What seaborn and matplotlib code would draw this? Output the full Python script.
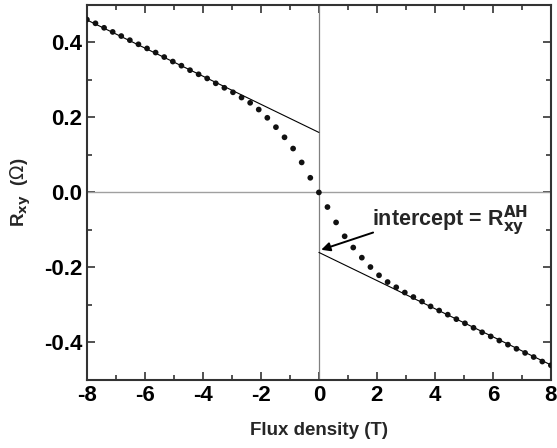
import numpy as np
import pandas as pd
import matplotlib
matplotlib.use("Agg")
import matplotlib.pyplot as plt
from matplotlib.ticker import MultipleLocator
import seaborn as sns

# Flux density points (T), negative half up to zero
flux_neg = [-8.0, -7.704, -7.407, -7.111, -6.815, -6.519, -6.222, -5.926, -5.630,
            -5.333, -5.037, -4.741, -4.444, -4.148, -3.852, -3.556, -3.259, -2.963,
            -2.667, -2.370, -2.074, -1.778, -1.481, -1.185, -0.889, -0.593, -0.296, 0.0]
# Hall resistance (Ohm), negative field side
rxy_neg = [0.461, 0.451, 0.439, 0.428, 0.417, 0.406, 0.395, 0.384, 0.373,
           0.361, 0.349, 0.338, 0.326, 0.315, 0.304, 0.291, 0.279, 0.267,
           0.253, 0.239, 0.221, 0.199, 0.174, 0.147, 0.117, 0.080, 0.039, 0.0]
# positive field side (antisymmetric)
flux_pos = [-v for v in flux_neg[::-1]][1:]
rxy_pos = [-v for v in rxy_neg[::-1]][1:]

# linear high-field fits
fit_left_x = [-8, 0]
fit_left_y = [0.46, 0.16]
fit_right_x = [0, 8]
fit_right_y = [-0.16, -0.46]

df = pd.DataFrame({"B": flux_neg + flux_pos, "Rxy": rxy_neg + rxy_pos})

sns.set_style("ticks")
plt.rcParams['font.family'] = ['Liberation Sans', 'DejaVu Sans']

fig = plt.figure(figsize=(5.57, 4.48), dpi=100)
ax = fig.add_axes([0.156, 0.152, 0.833, 0.837])

ax.axhline(0, color='#a0a0a0', lw=1.0, zorder=1)
ax.axvline(0, color='#808080', lw=0.9, zorder=1)

sns.lineplot(x=fit_left_x, y=fit_left_y, color='black', lw=0.8, ax=ax)
sns.lineplot(x=fit_right_x, y=fit_right_y, color='black', lw=0.8, ax=ax)
sns.scatterplot(data=df, x="B", y="Rxy", color='#111111', s=17, edgecolor='none', ax=ax, zorder=3)

ax.text(1.83, -0.077, 'intercept = R$_{\\mathbf{xy}}^{\\mathbf{AH}}$', fontsize=15.5,
        fontweight='bold', va='center', ha='left')
ax.annotate('', xy=(0.08, -0.153), xytext=(1.87, -0.107),
            arrowprops=dict(arrowstyle='-|>', color='black', lw=1.4, mutation_scale=13,
                            shrinkA=0, shrinkB=0))

ax.set_xlim(-8, 8)
ax.set_ylim(-0.5, 0.5)
ax.xaxis.set_major_locator(MultipleLocator(2))
ax.xaxis.set_minor_locator(MultipleLocator(1))
ax.yaxis.set_minor_locator(MultipleLocator(0.1))
ax.set_yticks([-0.4, -0.2, 0.0, 0.2, 0.4])
ax.set_yticklabels(['-0.4', '-0.2', '0.0', '0.2', '0.4'])
ax.set_xticks([-8, -6, -4, -2, 0, 2, 4, 6, 8])
ax.set_xticklabels(['-8', '-6', '-4', '-2', '0', '2', '4', '6', '8'])

ax.tick_params(which='both', direction='in', top=True, right=True, width=1.2, colors='#333333',
               labelcolor='black', labelsize=16)
ax.tick_params(which='major', length=6)
ax.tick_params(which='minor', length=3.5)
for lab in ax.get_xticklabels() + ax.get_yticklabels():
    lab.set_fontweight('bold')
for sp in ax.spines.values():
    sp.set_linewidth(1.5)
    sp.set_color('#333333')

ax.set_xlabel('Flux density (T)', fontsize=13.5, fontweight='bold', labelpad=12)
ax.set_ylabel('R$_{\\mathbf{xy}}$  ($\\Omega$)', fontsize=13.5, fontweight='bold', labelpad=8)

fig.savefig('out.png', dpi=100)
